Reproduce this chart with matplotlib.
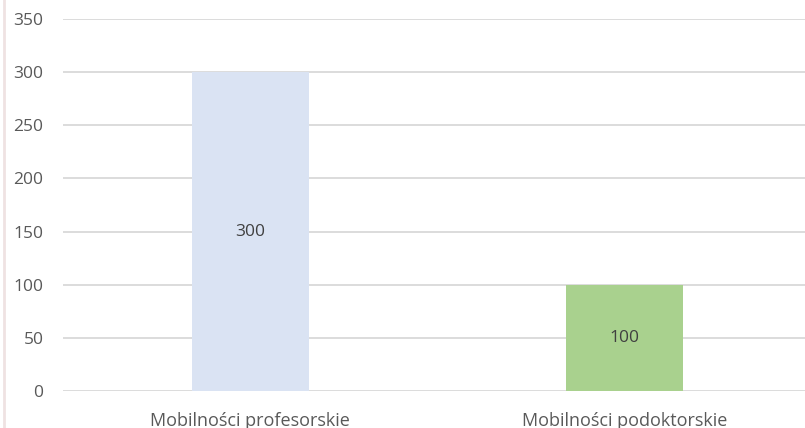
import matplotlib
matplotlib.use("Agg")
import matplotlib.pyplot as plt
from matplotlib.lines import Line2D

categories = ["Mobilności profesorskie", "Mobilności podoktorskie"]
values = [300, 100]
colors = ["#DAE3F3", "#A9D18E"]
yticks = [0, 50, 100, 150, 200, 250, 300, 350]

plt.rcParams['font.family'] = ['Open Sans', 'DejaVu Sans']

W, H = 805, 428
fig = plt.figure(figsize=(W/100, H/100), dpi=100)
ax = fig.add_axes([63/W, (H-391)/H, (812-63)/W, (391-19)/H])

x = list(range(len(categories)))
bars = ax.bar(x, values, width=0.312, color=colors, zorder=3)
for b, v in zip(bars, values):
    ax.text(b.get_x() + b.get_width()/2, v/2, str(v), ha='center', va='center',
            fontsize=12.5, color='#404040', zorder=4)

ax.set_xlim(-0.5, 1.5)
ax.set_ylim(0, 350)
ax.set_yticks(yticks)
ax.set_xticks(x)
ax.set_xticklabels(categories)
ax.grid(axis='y', color='#D9D9D9', linewidth=1.3, zorder=0)
for s in ax.spines.values():
    s.set_visible(False)
ax.tick_params(axis='both', length=0, colors='#595959', labelsize=12.5)
ax.tick_params(axis='x', labelsize=13)
ax.tick_params(axis='y', pad=14)
ax.tick_params(axis='x', pad=15)
ax.set_axisbelow(True)

fig.add_artist(Line2D([4/W, 4/W], [0, 1], color='#EFE2E2', linewidth=2, transform=fig.transFigure))

fig.savefig("out.png", dpi=100)
